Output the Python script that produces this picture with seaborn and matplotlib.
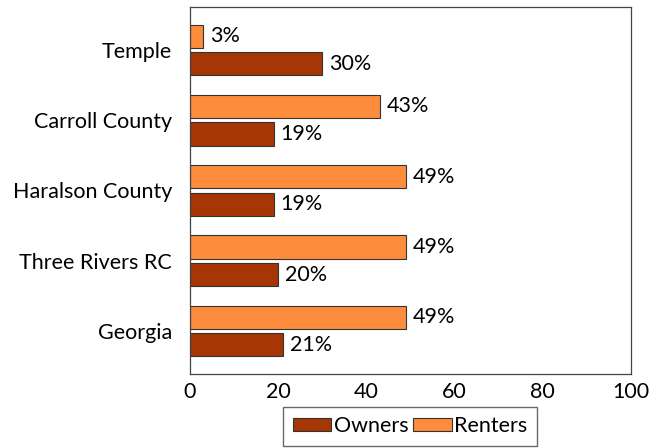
import matplotlib
matplotlib.use("Agg")
import matplotlib.pyplot as plt
import seaborn as sns
import pandas as pd
from matplotlib.patches import Patch

categories = ["Temple", "Carroll County", "Haralson County", "Three Rivers RC", "Georgia"]
owners = [30, 19, 19, 20, 21]
renters = [3, 43, 49, 49, 49]
xticks = [0, 20, 40, 60, 80, 100]

c_owners = "#A63603"
c_renters = "#FD8D3C"

rows = []
for c, o, r in zip(categories, owners, renters):
    rows.append({"area": c, "group": "Renters", "value": r})
    rows.append({"area": c, "group": "Owners", "value": o})
df = pd.DataFrame(rows)

sns.set_style("white")
plt.rcParams["font.family"] = ["Lato", "DejaVu Sans"]
plt.rcParams["text.color"] = "black"
plt.rcParams["xtick.color"] = "black"
plt.rcParams["ytick.color"] = "black"

FS = 15.5

fig = plt.figure(figsize=(6.67, 4.48), dpi=100)
ax = fig.add_axes([190/667, 1-374/448, (631-190)/667, (374-7)/448])

sns.barplot(data=df, y="area", x="value", hue="group", order=categories,
            hue_order=["Renters", "Owners"],
            palette={"Renters": c_renters, "Owners": c_owners},
            saturation=1, width=0.78, gap=0.15, orient="h", ax=ax,
            edgecolor="#333333", linewidth=0.8, legend=False)

for cont in ax.containers:
    ax.bar_label(cont, labels=[f"{v:.0f}%" for v in cont.datavalues],
                 padding=5, fontsize=FS, color="black")

ax.set_xlim(0, 100)
ax.set_ylim(4.61, -0.61)
ax.set_xticks(xticks)
ax.set_xticklabels([str(t) for t in xticks])
ax.set_xlabel("")
ax.set_ylabel("")
ax.tick_params(axis="y", length=0, labelsize=FS, pad=13)
ax.tick_params(axis="x", length=0, labelsize=FS, pad=6)
for s in ax.spines.values():
    s.set_visible(True)
    s.set_color("#444444")
    s.set_linewidth(0.9)

handles = [Patch(facecolor=c_owners, edgecolor="#333333", linewidth=0.8, label="Owners"),
           Patch(facecolor=c_renters, edgecolor="#333333", linewidth=0.8, label="Renters")]
fig.legend(handles=handles, loc="lower center", bbox_to_anchor=(410/667, 2/448),
           ncol=2, frameon=True, fancybox=False, edgecolor="#444444",
           fontsize=FS, handlelength=1.8, handleheight=0.55, handletextpad=0.12,
           columnspacing=0.2, borderpad=0.45, borderaxespad=0)

fig.savefig("out.png", dpi=100)
